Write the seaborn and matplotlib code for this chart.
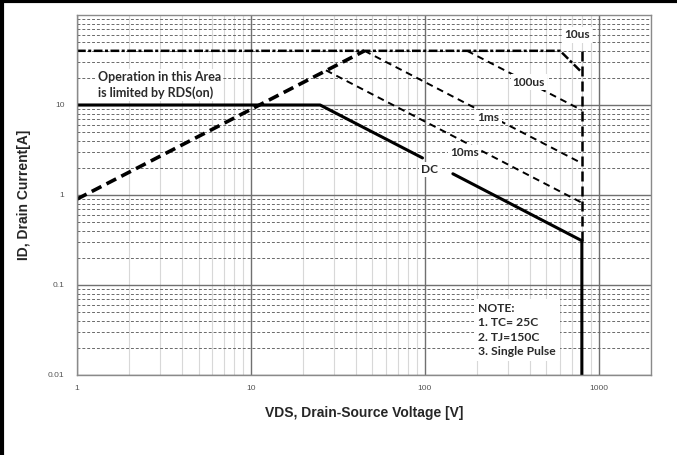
import numpy as np
import seaborn as sns
import matplotlib.pyplot as plt
from matplotlib.lines import Line2D
from matplotlib.ticker import LogLocator, NullFormatter

# safe operating area curves (VDS [V], ID [A])
dc_v_left = [1, 25, 97]
dc_i_left = [10, 10, 2.58]
dc_v_right = [145, 800, 800]
dc_i_right = [1.72, 0.31, 0.01]
rds_v = [1, 45]
rds_i = [0.9, 40]
us10_v = [1, 600, 800]
us10_i = [40, 40, 23]
us100_v = [175, 800]
us100_i = [40, 8.75]
ms1_v = [45, 800]
ms1_i = [40, 2.25]
ms10_v = [27, 800]
ms10_i = [24.3, 0.82]
bv_v = [800, 800]
bv_i = [40, 0.31]

x_ticks = [1, 10, 100, 1000]
x_tick_labels = ['1', '10', '100', '1000']
y_ticks = [0.01, 0.1, 1, 10]
y_tick_labels = ['0.01', '0.1', '1', '10']

sns.set_style('white')
plt.rcParams['font.family'] = ['Liberation Sans', 'DejaVu Sans']

fig = plt.figure(figsize=(6.77, 4.55), dpi=100)
ax = fig.add_axes([0.1137, 0.176, 0.848, 0.791])
ax.set_xscale('log')
ax.set_yscale('log')
ax.set_xlim(1, 2000)
ax.set_ylim(0.01, 100)

# grid
ax.xaxis.set_minor_locator(LogLocator(base=10, subs=np.arange(2, 10)))
ax.yaxis.set_minor_locator(LogLocator(base=10, subs=np.arange(2, 10)))
ax.xaxis.set_minor_formatter(NullFormatter())
ax.yaxis.set_minor_formatter(NullFormatter())
ax.grid(axis='x', which='major', color='#707070', lw=1.0, ls='-')
ax.grid(axis='x', which='minor', color='#d8d8d8', lw=0.8, ls='-')
ax.grid(axis='y', which='major', color='#707070', lw=1.0, ls='-')
ax.grid(axis='y', which='minor', color='#6a6a6a', lw=0.7, ls=(0, (3, 2)))
ax.set_axisbelow(True)

kw = dict(sort=False, estimator=None, color='black', legend=False, ax=ax)
sns.lineplot(x=bv_v, y=bv_i, lw=1.8, **kw).lines[-1].set_dashes((4, 2))
sns.lineplot(x=us10_v, y=us10_i, lw=1.8, **kw).lines[-1].set_dashes((3.5, 1, 1.2, 1))
sns.lineplot(x=us100_v, y=us100_i, lw=1.4, **kw).lines[-1].set_dashes((3.5, 2.5))
sns.lineplot(x=ms1_v, y=ms1_i, lw=1.4, **kw).lines[-1].set_dashes((3.5, 2.5))
sns.lineplot(x=ms10_v, y=ms10_i, lw=1.4, **kw).lines[-1].set_dashes((3.5, 2.5))
sns.lineplot(x=rds_v, y=rds_i, lw=2.6, **kw).lines[-1].set_dashes((3, 1.6))
sns.lineplot(x=dc_v_left, y=dc_i_left, lw=2.2, **kw)
sns.lineplot(x=dc_v_right, y=dc_i_right, lw=2.2, **kw)

ax.set_xticks(x_ticks)
ax.set_xticklabels(x_tick_labels)
ax.set_yticks(y_ticks)
ax.set_yticklabels(y_tick_labels)
ax.tick_params(axis='both', which='both', length=0, labelsize=6, labelcolor='#555555')
ax.tick_params(axis='x', pad=7)
ax.tick_params(axis='y', pad=9)
for s in ax.spines.values():
    s.set_color('#8a8a8a')
    s.set_linewidth(1.0)

ax.set_xlabel('VDS, Drain-Source Voltage [V]', fontsize=10, fontweight='bold', labelpad=10)
ax.set_ylabel('ID, Drain Current[A]', fontsize=10, fontweight='bold', labelpad=12)

box = dict(facecolor='white', edgecolor='none', pad=1.5)
tkw = dict(family=['Lato', 'DejaVu Sans'], fontweight='bold', color='#2a2a2a', zorder=5)
ax.text(748, 60, '10us', ha='center', va='center', fontsize=8.6, bbox=box, **tkw)
ax.text(396, 18, '100us', ha='center', va='center', fontsize=8.6, bbox=box, **tkw)
ax.text(233, 7.2, '1ms', ha='center', va='center', fontsize=8.6, bbox=box, **tkw)
ax.text(170, 3.0, '10ms', ha='center', va='center', fontsize=8.6, bbox=box, **tkw)
ax.text(107, 1.9, 'DC', ha='center', va='center', fontsize=8.6, bbox=box, **tkw)
ax.text(1.32, 16.5, 'Operation in this Area\nis limited by RDS(on)', ha='left', va='center',
        fontsize=9, linespacing=1.3, bbox=box, **tkw)
ax.text(202, 0.0316, 'NOTE:\n1. TC= 25C\n2. TJ=150C\n3. Single Pulse', ha='left', va='center',
        fontsize=8.7, linespacing=1.35, bbox=dict(facecolor='white', edgecolor='none', pad=3), **tkw)

# frame of the original picture (left and top edges)
fig.add_artist(Line2D([0.003, 0.003], [0, 1], color='black', lw=3, transform=fig.transFigure))
fig.add_artist(Line2D([0, 1], [0.997, 0.997], color='black', lw=3, transform=fig.transFigure))

fig.savefig('out.png', dpi=100)
